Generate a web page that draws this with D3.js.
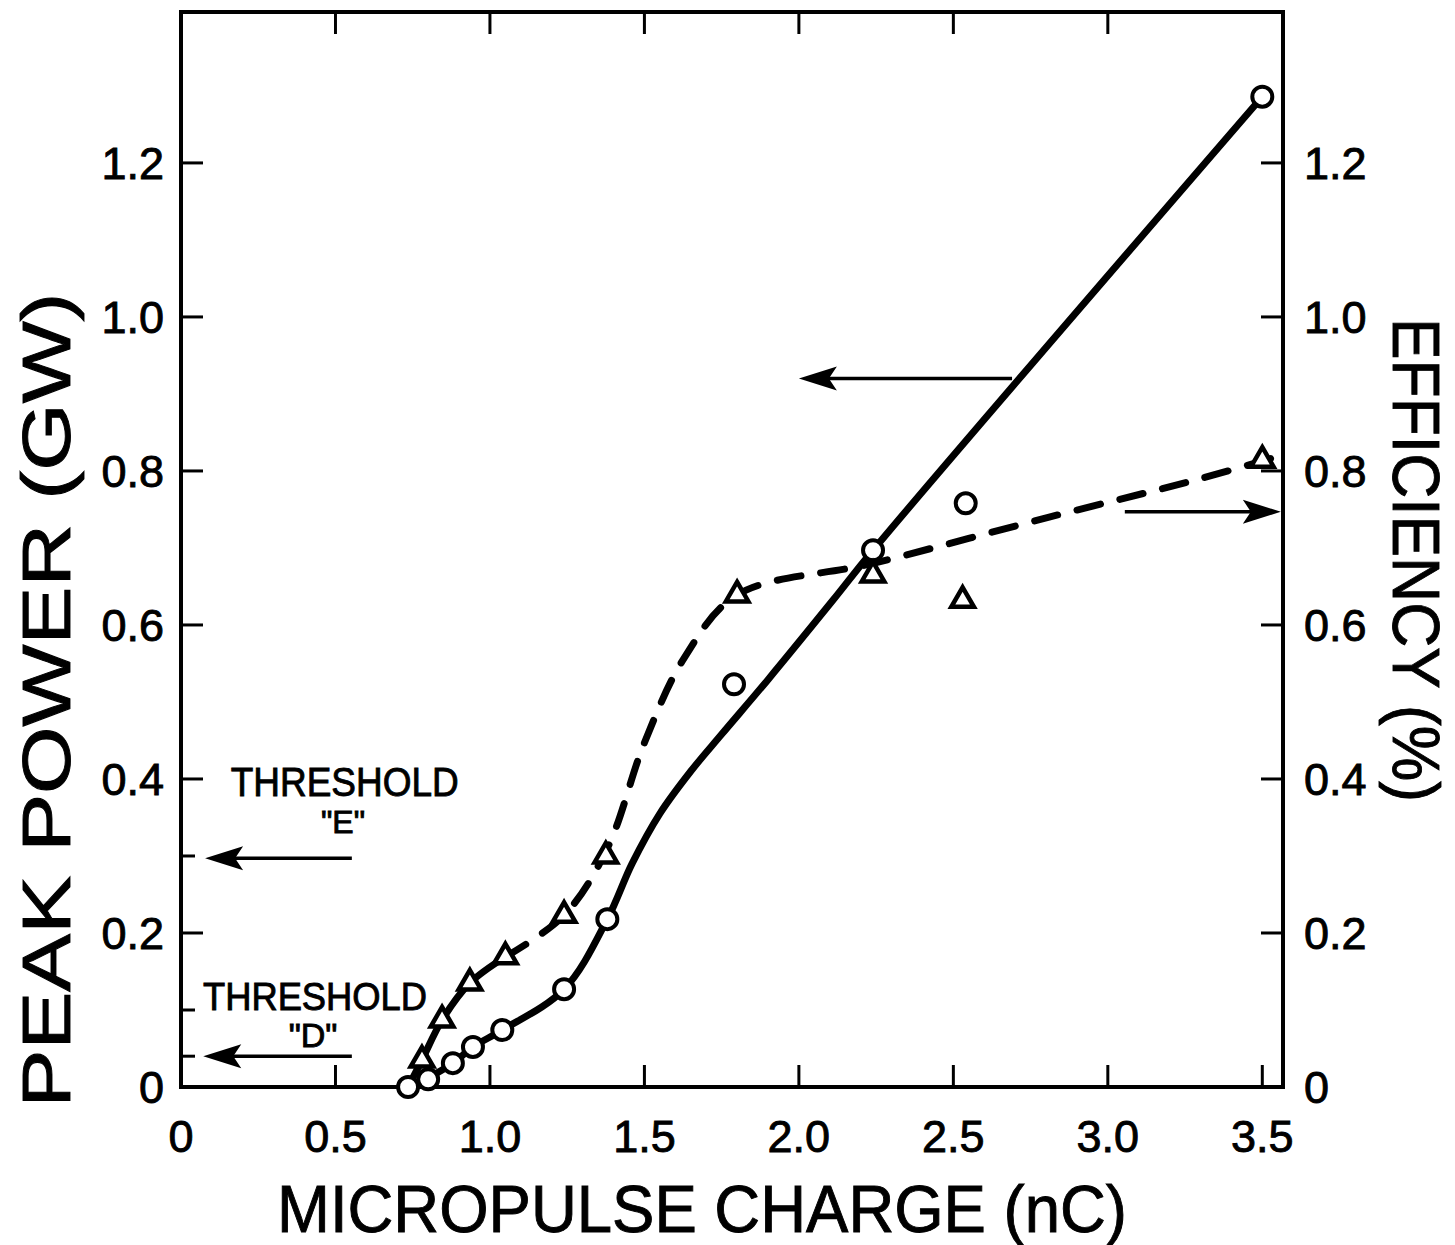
<!DOCTYPE html>
<html><head><meta charset="utf-8">
<script src="https://cdn.jsdelivr.net/npm/d3@7"></script>
<style>body{margin:0;background:#fff}svg{display:block}text{font-family:"Liberation Sans",Arial,sans-serif;fill:#000;stroke:#000;stroke-width:0.9px}</style>
</head><body><div id="chart"></div>
<script>
// ---- data ----
const xTicks = [0, 0.5, 1.0, 1.5, 2.0, 2.5, 3.0, 3.5];
const xTickLabels = ["0", "0.5", "1.0", "1.5", "2.0", "2.5", "3.0", "3.5"];
const yTicks = [0, 0.2, 0.4, 0.6, 0.8, 1.0, 1.2];
const yTickLabelsLeft = ["0", "0.2", "0.4", "0.6", "0.8", "1.0", "1.2"];
const yTickLabelsRight = ["0", "0.2", "0.4", "0.6", "0.8", "1.0", "1.2"];
const yMinorTicks = [0.04, 0.1, 0.3];
const topTicks = [0.5, 1.0, 1.5, 2.0, 2.5, 3.0];

// peak power (GW) – circles
const powerCharge = [0.735, 0.80, 0.88, 0.945, 1.04, 1.24, 1.38, 1.79, 2.24, 2.54, 3.50];
const powerGW     = [0.0, 0.01, 0.031, 0.052, 0.074, 0.127, 0.218, 0.523, 0.697, 0.758, 1.286];
// fitted solid curve through power
const powerFitX = [0.735, 0.80, 0.88, 0.945, 1.04, 1.24, 1.38, 1.46, 1.55, 1.65, 1.75, 1.90, 2.11, 2.24, 3.50];
const powerFitY = [0.0, 0.012, 0.031, 0.052, 0.074, 0.127, 0.218, 0.29, 0.355, 0.41, 0.458, 0.529, 0.632, 0.697, 1.286];

// efficiency (%) – triangles
const effCharge = [0.78, 0.845, 0.935, 1.05, 1.24, 1.375, 1.80, 2.24, 2.53, 3.50];
const effPct    = [0.035, 0.087, 0.135, 0.169, 0.223, 0.30, 0.639, 0.665, 0.632, 0.814];
// fitted curve through efficiency (solid part, then dashed part)
const effFitSolidX = [0.735, 0.78, 0.845, 0.935, 1.05];
const effFitSolidY = [0.0, 0.035, 0.087, 0.135, 0.169];
const effFitDashX = [1.05, 1.24, 1.38, 1.50, 1.63, 1.80, 2.24, 2.81, 3.30, 3.56];
const effFitDashY = [0.169, 0.223, 0.31, 0.447, 0.558, 0.639, 0.68, 0.74, 0.79, 0.82];

// annotation arrows [x from, y, x to]
const arrowsX1 = [2.69, 3.055, 0.553, 0.553];
const arrowsX2 = [2.0, 3.56, 0.078, 0.072];
const arrowsY  = [0.92, 0.747, 0.297, 0.04];

const W = 1455, H = 1245;
const svg = d3.select("#chart").append("svg").attr("width", W).attr("height", H);
const x = d3.scaleLinear().domain([0, 3.567]).range([181, 1283]);
const y = d3.scaleLinear().domain([0, 1.396]).range([1087, 12]);

// frame
svg.append("rect").attr("x", x(0)).attr("y", y(1.396)).attr("width", x(3.567) - x(0)).attr("height", y(0) - y(1.396))
  .attr("fill", "none").attr("stroke", "#000").attr("stroke-width", 4);

// ticks
const tickG = svg.append("g").attr("stroke", "#000").attr("stroke-width", 3);
xTicks.filter(d => d > 0).forEach(d => tickG.append("line").attr("x1", x(d)).attr("x2", x(d)).attr("y1", y(0)).attr("y2", y(0) - 22));
topTicks.forEach(d => tickG.append("line").attr("x1", x(d)).attr("x2", x(d)).attr("y1", y(1.396)).attr("y2", y(1.396) + 22));
yTicks.filter(d => d > 0).forEach(d => {
  tickG.append("line").attr("x1", x(0)).attr("x2", x(0) + 22).attr("y1", y(d)).attr("y2", y(d));
  tickG.append("line").attr("x1", x(3.567)).attr("x2", x(3.567) - 22).attr("y1", y(d)).attr("y2", y(d));
});
yMinorTicks.forEach(d => tickG.append("line").attr("x1", x(0)).attr("x2", x(0) + 14).attr("y1", y(d)).attr("y2", y(d)));

// tick labels
const fs = 45;
svg.append("g").selectAll("text").data(xTicks).join("text")
  .attr("x", d => x(d)).attr("y", 1152).attr("text-anchor", "middle").attr("font-size", fs)
  .text((d, i) => xTickLabels[i]);
svg.append("g").selectAll("text").data(yTicks).join("text")
  .attr("x", 164).attr("y", d => y(d) + 16).attr("text-anchor", "end").attr("font-size", fs)
  .text((d, i) => yTickLabelsLeft[i]);
svg.append("g").selectAll("text").data(yTicks).join("text")
  .attr("x", 1304).attr("y", d => y(d) + 16).attr("text-anchor", "start").attr("font-size", fs)
  .text((d, i) => yTickLabelsRight[i]);

// axis titles
svg.append("text").attr("x", 702).attr("y", 1232).attr("text-anchor", "middle").attr("font-size", 66)
  .attr("textLength", 850).attr("lengthAdjust", "spacingAndGlyphs").text("MICROPULSE CHARGE (nC)");
svg.append("text").attr("transform", "translate(70,700) rotate(-90)").attr("text-anchor", "middle").attr("font-size", 68)
  .attr("textLength", 815).attr("lengthAdjust", "spacingAndGlyphs").text("PEAK POWER (GW)");
svg.append("text").attr("transform", "translate(1393,560) rotate(90)").attr("text-anchor", "middle").attr("font-size", 66)
  .attr("textLength", 484).attr("lengthAdjust", "spacingAndGlyphs").text("EFFICIENCY (%)");

// curves
const line = d3.line().x(d => x(d[0])).y(d => y(d[1])).curve(d3.curveCatmullRom.alpha(0.5));
svg.append("path").attr("d", line(powerFitX.map((v, i) => [v, powerFitY[i]])))
  .attr("fill", "none").attr("stroke", "#000").attr("stroke-width", 7).attr("stroke-linejoin", "round");
svg.append("path").attr("d", line(effFitSolidX.map((v, i) => [v, effFitSolidY[i]])))
  .attr("fill", "none").attr("stroke", "#000").attr("stroke-width", 7).attr("stroke-linecap", "round");
svg.append("path").attr("d", line(effFitDashX.map((v, i) => [v, effFitDashY[i]])))
  .attr("fill", "none").attr("stroke", "#000").attr("stroke-width", 7).attr("stroke-dasharray", "24,20").attr("stroke-linecap", "round");

// markers
svg.append("g").selectAll("circle").data(powerCharge).join("circle")
  .attr("cx", d => x(d)).attr("cy", (d, i) => y(powerGW[i])).attr("r", 10)
  .attr("fill", "#fff").attr("stroke", "#000").attr("stroke-width", 4);
const tri = d3.symbol().type(d3.symbolTriangle).size(220);
svg.append("g").selectAll("path").data(effCharge).join("path")
  .attr("transform", (d, i) => `translate(${x(d)},${y(effPct[i])})`).attr("d", tri())
  .attr("fill", "#fff").attr("stroke", "#000").attr("stroke-width", 4.5);

// arrows
const ag = svg.append("g");
arrowsX1.forEach((x1, i) => {
  const yy = y(arrowsY[i]), xa = x(x1), xb = x(arrowsX2[i]);
  const dir = Math.sign(xb - xa);
  ag.append("line").attr("x1", xa).attr("x2", xb - dir * 20).attr("y1", yy).attr("y2", yy)
    .attr("stroke", "#000").attr("stroke-width", 3.5);
  ag.append("path").attr("d", `M${xb},${yy} L${xb - dir * 38},${yy - 12} L${xb - dir * 30},${yy} L${xb - dir * 38},${yy + 12} Z`).attr("fill", "#000");
});

// threshold labels
svg.append("text").attr("x", x(0.53)).attr("y", 796).attr("text-anchor", "middle").attr("font-size", 40)
  .attr("textLength", 228).attr("lengthAdjust", "spacingAndGlyphs").text("THRESHOLD");
svg.append("text").attr("x", 343).attr("y", 833).attr("text-anchor", "middle").attr("font-size", 32).text("\"E\"");
svg.append("text").attr("x", 315).attr("y", 1010).attr("text-anchor", "middle").attr("font-size", 39)
  .attr("textLength", 224).attr("lengthAdjust", "spacingAndGlyphs").text("THRESHOLD");
svg.append("text").attr("x", 313).attr("y", 1047).attr("text-anchor", "middle").attr("font-size", 34).text("\"D\"");
</script></body></html>
